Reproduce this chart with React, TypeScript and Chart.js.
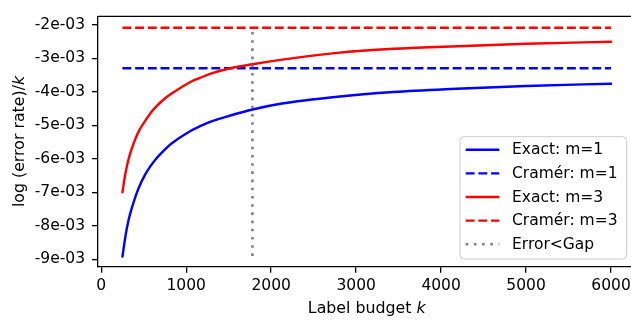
import React, { useEffect, useRef } from "react";
import { Chart, registerables } from "chart.js";

Chart.register(...registerables);

// ---- data ----
const kValues = [250, 285, 325, 385, 440, 520, 580, 640, 760, 820, 1050, 1170, 1290, 1520, 1780, 2110, 2780, 3440, 4110, 5000, 6000];
const exactM1 = [-8.92e-3, -8.32e-3, -7.80e-3, -7.27e-3, -6.88e-3, -6.46e-3, -6.22e-3, -6.02e-3, -5.70e-3, -5.56e-3, -5.17e-3, -5.02e-3, -4.89e-3, -4.71e-3, -4.53e-3, -4.36e-3, -4.15e-3, -4.01e-3, -3.92e-3, -3.83e-3, -3.76e-3];
const exactM3 = [-7.00e-3, -6.44e-3, -5.98e-3, -5.52e-3, -5.19e-3, -4.86e-3, -4.64e-3, -4.46e-3, -4.18e-3, -4.07e-3, -3.71e-3, -3.58e-3, -3.46e-3, -3.30e-3, -3.18e-3, -3.05e-3, -2.84e-3, -2.72e-3, -2.65e-3, -2.57e-3, -2.51e-3];
const cramerRangeK = [250, 6000];
const cramerM1 = -3.30e-3;
const cramerM3 = -2.09e-3;
const gapK = 1780;
const gapYRange = [-8.90e-3, -2.12e-3];

const xTickValues = [0, 1000, 2000, 3000, 4000, 5000, 6000];
const yTickValues = [-9e-3, -8e-3, -7e-3, -6e-3, -5e-3, -4e-3, -3e-3, -2e-3];
const yTickLabels = ["-9e-03", "-8e-03", "-7e-03", "-6e-03", "-5e-03", "-4e-03", "-3e-03", "-2e-03"];

const seriesLabels = ["Exact: m=1", "Cramér: m=1", "Exact: m=3", "Cramér: m=3", "Error<Gap"];
const xTitle = "Label budget ";
const yTitle = "log (error rate)/";
const titleVar = "k";

const FAMILY = '"DejaVu Sans", sans-serif';
const FS = 15.5;

const framePlugin = {
  id: "frame",
  afterDatasetsDraw(chart: any) {
    const { ctx, chartArea: a } = chart;
    ctx.save();
    ctx.strokeStyle = "#000";
    ctx.lineWidth = 1.3;
    ctx.beginPath();
    ctx.moveTo(a.left, a.top);
    ctx.lineTo(a.right, a.top);
    ctx.lineTo(a.right, a.bottom);
    ctx.stroke();
    ctx.restore();
  },
};

const titlesPlugin = {
  id: "titles",
  afterDraw(chart: any) {
    const { ctx, chartArea: a } = chart;
    ctx.save();
    ctx.fillStyle = "#000";
    const normal = `${15.8}px ${FAMILY}`;
    const italic = `italic ${15.8}px ${FAMILY}`;
    // x title
    ctx.font = normal;
    const w1 = ctx.measureText(xTitle).width;
    ctx.font = italic;
    const w2 = ctx.measureText(titleVar).width;
    const cx = (a.left + a.right) / 2;
    const x0 = cx - (w1 + w2) / 2;
    ctx.textBaseline = "alphabetic";
    ctx.textAlign = "left";
    ctx.font = normal;
    ctx.fillText(xTitle, x0, 313.4);
    ctx.font = italic;
    ctx.fillText(titleVar, x0 + w1, 313.4);
    // y title
    ctx.font = normal;
    const v1 = ctx.measureText(yTitle).width;
    ctx.font = italic;
    const v2 = ctx.measureText(titleVar).width;
    const cy = (a.top + a.bottom) / 2;
    ctx.translate(23.5, cy);
    ctx.rotate(-Math.PI / 2);
    const s0 = -(v1 + v2) / 2;
    ctx.font = normal;
    ctx.fillText(yTitle, s0, 0);
    ctx.font = italic;
    ctx.fillText(titleVar, s0 + v1, 0);
    ctx.restore();
  },
};

const legendPlugin = {
  id: "boxLegend",
  afterDraw(chart: any) {
    const { ctx } = chart;
    const bx = 460, by = 136.7, bw = 166.7, bh = 122.3, r = 4;
    ctx.save();
    ctx.beginPath();
    ctx.moveTo(bx + r, by);
    ctx.lineTo(bx + bw - r, by);
    ctx.quadraticCurveTo(bx + bw, by, bx + bw, by + r);
    ctx.lineTo(bx + bw, by + bh - r);
    ctx.quadraticCurveTo(bx + bw, by + bh, bx + bw - r, by + bh);
    ctx.lineTo(bx + r, by + bh);
    ctx.quadraticCurveTo(bx, by + bh, bx, by + bh - r);
    ctx.lineTo(bx, by + r);
    ctx.quadraticCurveTo(bx, by, bx + r, by);
    ctx.closePath();
    ctx.fillStyle = "rgba(255,255,255,0.8)";
    ctx.fill();
    ctx.strokeStyle = "#cccccc";
    ctx.lineWidth = 1;
    ctx.stroke();
    chart.data.datasets.forEach((ds: any, i: number) => {
      const y = 149.8 + i * 23.6;
      ctx.beginPath();
      ctx.setLineDash(ds.borderDash || []);
      ctx.lineDashOffset = 0;
      ctx.strokeStyle = ds.borderColor;
      ctx.lineWidth = ds.borderWidth;
      ctx.lineCap = "butt";
      ctx.moveTo(465.7, y);
      ctx.lineTo(499.3, y);
      ctx.stroke();
      ctx.setLineDash([]);
      ctx.fillStyle = "#000";
      ctx.font = `${FS}px ${FAMILY}`;
      ctx.textBaseline = "middle";
      ctx.textAlign = "left";
      ctx.fillText(ds.label, 512, y + 0.5);
    });
    ctx.restore();
  },
};

export default function App() {
  const ref = useRef<HTMLCanvasElement | null>(null);
  useEffect(() => {
    if (!ref.current) return;
    const line = (label: string, data: any[], color: string, dash: number[], width: number, order: number, smooth: boolean) => ({
      label,
      data,
      borderColor: color,
      backgroundColor: color,
      borderDash: dash,
      borderWidth: width,
      borderCapStyle: dash.length ? "butt" : "round",
      borderJoinStyle: "round",
      pointRadius: 0,
      fill: false,
      cubicInterpolationMode: smooth ? "monotone" : "default",
      tension: 0,
      order,
    });
    const chart = new Chart(ref.current, {
      type: "line",
      data: {
        datasets: [
          line(seriesLabels[0], kValues.map((k, i) => ({ x: k, y: exactM1[i] })), "#0000ff", [], 2.4, 5, true),
          line(seriesLabels[1], cramerRangeK.map((k) => ({ x: k, y: cramerM1 })), "#0000ff", [8.9, 3.8], 2.4, 4, false),
          line(seriesLabels[2], kValues.map((k, i) => ({ x: k, y: exactM3[i] })), "#ff0000", [], 2.4, 3, true),
          line(seriesLabels[3], cramerRangeK.map((k) => ({ x: k, y: cramerM3 })), "#ff0000", [8.9, 3.8], 2.4, 2, false),
          line(seriesLabels[4], gapYRange.map((y) => ({ x: gapK, y })), "#808080", [2.6, 5.6], 2.6, 1, false),
        ],
      } as any,
      options: {
        animation: false,
        responsive: false,
        devicePixelRatio: 1,
        layout: { padding: { left: 0, right: 4.5, top: 0, bottom: 0 } },
        plugins: { legend: { display: false }, tooltip: { enabled: false } },
        scales: {
          x: {
            type: "linear",
            min: -37.5,
            max: 6287.5,
            afterFit: (s: any) => { s.height = 56.3; },
            afterBuildTicks: (s: any) => { s.ticks = xTickValues.map((v) => ({ value: v })); },
            ticks: {
              autoSkip: false,
              maxRotation: 0,
              minRotation: 0,
              color: "#000",
              padding: 4,
              font: { family: FAMILY, size: FS },
              callback: (v: any) => String(v),
            },
            grid: { drawOnChartArea: false, drawTicks: true, tickLength: 6, color: "#000", lineWidth: 1.3 },
            border: { color: "#000", width: 1.3 },
          },
          y: {
            type: "linear",
            min: -9.22e-3,
            max: -1.75e-3,
            afterFit: (s: any) => { s.width = 98; },
            afterBuildTicks: (s: any) => { s.ticks = yTickValues.map((v) => ({ value: v })); },
            ticks: {
              autoSkip: false,
              color: "#000",
              padding: 7,
              font: { family: FAMILY, size: FS },
              callback: (v: any, i: number) => yTickLabels[i],
            },
            grid: { drawOnChartArea: false, drawTicks: true, tickLength: 6, color: "#000", lineWidth: 1.3 },
            border: { color: "#000", width: 1.3 },
          },
        },
      } as any,
      plugins: [framePlugin, titlesPlugin, legendPlugin],
    });
    return () => chart.destroy();
  }, []);
  return (
    <div style={{ position: "fixed", left: 0, top: 0, width: 631, height: 323, overflow: "hidden", background: "#fff" }}>
      <canvas ref={ref} width={640} height={323} style={{ display: "block", width: 640, height: 323 }} />
    </div>
  );
}
